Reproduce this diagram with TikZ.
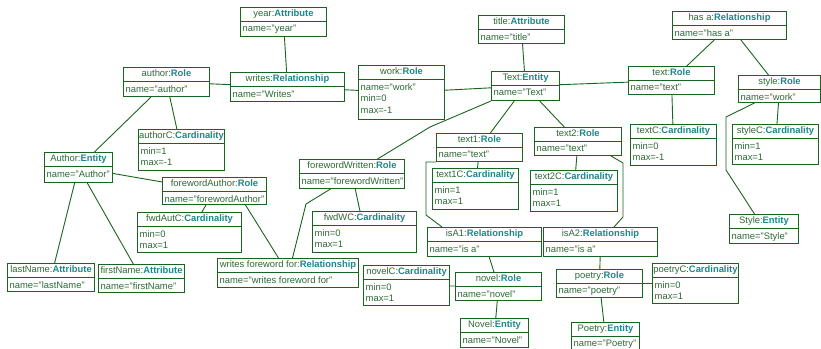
\documentclass[tikz,border=0pt]{standalone}
\usepackage{fontspec}
\setmainfont{Liberation Sans}
\definecolor{boxgreen}{RGB}{25,100,30}
\definecolor{namegreen}{RGB}{45,105,55}
\definecolor{typeteal}{RGB}{30,135,135}
\newcommand{\typ}[1]{\textcolor{typeteal}{\bfseries #1}}
% id, left, top, width, height, header, body
\newcommand{\umlobj}[7]{%
	\node[objbox,minimum width=#4pt,minimum height=#5pt,anchor=north west] (#1) at (#2,#3) {};
	\draw[boxline] ([yshift=-14pt]#1.north west) -- ([yshift=-14pt]#1.north east);
	\node[headtext] at ([yshift=-9.5pt]#1.north) {#6};
	\node[bodytext] at ([xshift=2.5pt,yshift=-18pt]#1.north west) {#7};
}
\begin{document}
\begin{tikzpicture}[x=1pt,y=-1pt,
	objbox/.style={draw=boxgreen,line width=1pt,inner sep=0pt,fill=white},
	boxline/.style={draw=boxgreen,line width=1pt},
	headtext/.style={anchor=base,inner sep=0pt,text=namegreen,font=\fontsize{9.4}{11.5}\selectfont},
	bodytext/.style={anchor=north west,inner sep=0pt,align=left,text=namegreen,font=\fontsize{9.4}{11.5}\selectfont},
	link/.style={draw=boxgreen,line width=0.9pt}]
	\useasboundingbox (0,0) rectangle (821,348);
	% top row
	\umlobj{year}{240}{7}{86}{29}{year:\typ{Attribute}}{name="year"}
	\umlobj{titleA}{478}{15}{86}{28}{title:\typ{Attribute}}{name="title"}
	\umlobj{hasA}{672}{11}{114}{28}{has a:\typ{Relationship}}{name="has a"}
	\umlobj{authorR}{123}{67}{86}{29}{author:\typ{Role}}{name="author"}
	\umlobj{writes}{230}{72}{114}{29}{writes:\typ{Relationship}}{name="Writes"}
	\umlobj{workR}{358}{65}{86}{54}{work:\typ{Role}}{name="work"\\min=0\\max=-1}
	\umlobj{TextE}{491}{71}{68}{29}{Text:\typ{Entity}}{name="Text"}
	\umlobj{textR}{628}{66}{86}{28}{text:\typ{Role}}{name="text"}
	\umlobj{styleR}{738}{75}{82}{27}{style:\typ{Role}}{name="work"}
	% middle
	\umlobj{authorC}{138}{129}{86}{41}{authorC:\typ{Cardinality}}{min=1\\max=-1}
	\umlobj{textC}{630}{124}{86}{41}{textC:\typ{Cardinality}}{min=0\\max=-1}
	\umlobj{styleC}{732}{124}{86}{40}{styleC:\typ{Cardinality}}{min=1\\max=1}
	\umlobj{text1R}{436}{133}{86}{28}{text1:\typ{Role}}{name="text"}
	\umlobj{text2R}{534}{127}{87}{28}{text2:\typ{Role}}{name="text"}
	\umlobj{AuthorE}{44}{152}{68}{30}{Author:\typ{Entity}}{name="Author"}
	\umlobj{fwW}{299}{159}{105}{29}{forewordWritten:\typ{Role}}{name="forewordWritten"}
	\umlobj{text1C}{432}{168}{86}{41}{text1C:\typ{Cardinality}}{min=1\\max=1}
	\umlobj{text2C}{530}{170}{87}{41}{text2C:\typ{Cardinality}}{min=1\\max=1}
	\umlobj{fwA}{162}{177}{104}{27}{forewordAuthor:\typ{Role}}{name="forewordAuthor"}
	\umlobj{fwdWC}{312}{211}{104}{41}{fwdWC:\typ{Cardinality}}{min=0\\max=1}
	\umlobj{fwdAutC}{137}{212}{104}{40}{fwdAutC:\typ{Cardinality}}{min=0\\max=1}
	\umlobj{StyleE}{729}{214}{69}{29}{Style:\typ{Entity}}{name="Style"}
	% bottom
	\umlobj{isA1}{427}{227}{114}{29}{isA1:\typ{Relationship}}{name="is a"}
	\umlobj{isA2}{543}{227}{114}{29}{isA2:\typ{Relationship}}{name="is a"}
	\umlobj{wff}{217}{258}{141}{29}{writes foreword for:\typ{Relationship}}{name="writes foreword for"}
	\umlobj{lastName}{7}{263}{87}{28}{lastName:\typ{Attribute}}{name="lastName"}
	\umlobj{firstName}{98}{264}{86}{28}{firstName:\typ{Attribute}}{name="firstName"}
	\umlobj{novelC}{363}{265}{86}{40}{novelC:\typ{Cardinality}}{min=0\\max=1}
	\umlobj{poetryC}{652}{263}{86}{40}{poetryC:\typ{Cardinality}}{min=0\\max=1}
	\umlobj{novelR}{455}{272}{86}{28}{novel:\typ{Role}}{name="novel"}
	\umlobj{poetryR}{556}{269}{86}{28}{poetry:\typ{Role}}{name="poetry"}
	\umlobj{NovelE}{460}{318}{68}{29}{Novel:\typ{Entity}}{name="Novel"}
	\umlobj{PoetryE}{571}{322}{68}{29}{Poetry:\typ{Entity}}{name="Poetry"}
	% links
	\draw[link] (year) -- (writes);
	\draw[link] (authorR) -- (writes);
	\draw[link] (writes) -- (workR);
	\draw[link] (workR) -- (TextE);
	\draw[link] (titleA) -- (TextE);
	\draw[link] (TextE) -- (textR);
	\draw[link] (hasA) -- (textR);
	\draw[link] (hasA) -- (styleR);
	\draw[link] (textR) -- (textC);
	\draw[link] (styleR) -- (styleC);
	\draw[link] (TextE) -- (text1R);
	\draw[link] (TextE) -- (text2R);
	\draw[link] (text1R) -- (text1C);
	\draw[link] (text2R) -- (text2C);
	\draw[link] (authorR) -- (authorC);
	\draw[link] (authorR) -- (AuthorE);
	\draw[link] (AuthorE) -- (fwA);
	\draw[link] (AuthorE) -- (lastName);
	\draw[link] (AuthorE) -- (firstName);
	\draw[link] (fwA) -- (fwdAutC);
	\draw[link] (fwW) -- (fwdWC);
	\draw[link] (isA1) -- (novelR);
	\draw[link] (novelC) -- (novelR);
	\draw[link] (novelR) -- (NovelE);
	\draw[link] (isA2) -- (poetryR);
	\draw[link] (poetryR) -- (poetryC);
	\draw[link] (poetryR) -- (PoetryE);
	\draw[link] ([xshift=31pt]fwA.south) -- ([xshift=-9.5pt]wff.north);
	\draw[link] (TextE.south west) -- (430,127) -- ([xshift=25.5pt]fwW.north);
	\draw[link] ([xshift=-21.5pt]fwW.south) -- (306,204) -- ([xshift=4.5pt]wff.north);
	\draw[link] (text1R.south west) -- (426,162) -- (426,215) -- ([xshift=15pt]isA1.north west);
	\draw[link] ([xshift=-11pt]text2R.south east) -- (623,163) -- (623,217) -- ([xshift=-44pt]isA2.north east);
	\draw[link] ([xshift=-25pt]styleR.south) -- (726,117) -- (726,170) -- ([xshift=-9.5pt]StyleE.north);
\end{tikzpicture}
\end{document}
